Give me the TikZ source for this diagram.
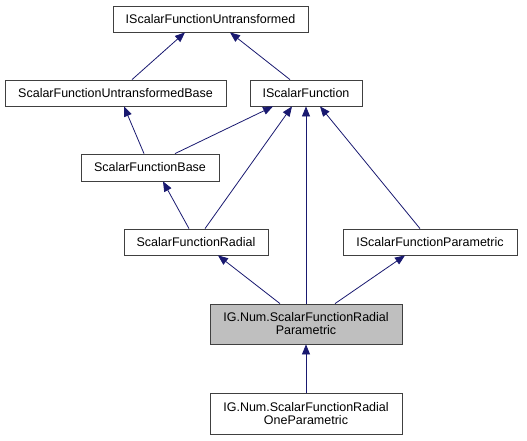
\documentclass[tikz,border=0pt]{standalone}
\usepackage{fontspec}
\setmainfont{Liberation Sans}
\usetikzlibrary{arrows.meta}

\definecolor{edgeblue}{RGB}{25,25,112}

\tikzset{
	classbox/.style = {draw = black!75, line width = 0.8pt, fill = white, inner sep = 0pt,
		minimum height = 26pt, align = center,
		font = \fontsize{12.5}{13}\selectfont},
	inherit/.style = {draw = edgeblue, line width = 0.8pt,
		-{Triangle[length = 10pt, width = 8pt]}}
}

\begin{document}
\begin{tikzpicture}[x = 1pt, y = -1pt]

	\useasboundingbox (0, 0) rectangle (527, 440);

	% Interfaces and base classes

	\node [classbox, minimum width = 195pt] (isfu) at (210.5, 19) {IScalarFunctionUntransformed};
	\node [classbox, minimum width = 221pt] (sfub) at (115.5, 93) {ScalarFunctionUntransformedBase};
	\node [classbox, minimum width = 112pt] (isf) at (306, 93) {IScalarFunction};
	\node [classbox, minimum width = 138pt, minimum height = 27pt] (sfb) at (150, 167.5) {ScalarFunctionBase};
	\node [classbox, minimum width = 144pt] (sfr) at (196, 242) {ScalarFunctionRadial};
	\node [classbox, minimum width = 174pt] (isfp) at (430, 242) {IScalarFunctionParametric};

	% The class itself and its derived class

	\node [classbox, fill = black!25, minimum width = 192pt, minimum height = 40pt] (sfrp) at (306, 324)
		{IG.Num.ScalarFunctionRadial\\Parametric};
	\node [classbox, minimum width = 192pt, minimum height = 41pt] (sfrop) at (306, 413.5)
		{IG.Num.ScalarFunctionRadial\\OneParametric};

	% Inheritance arrows (child top -> parent bottom)

	\foreach \c/\dc/\p/\dp in {sfub/16.5/isfu/-25.5, isf/-16/isfu/19.5,
			sfb/-6/sfub/8.5, sfb/25/isf/-33, sfr/9/isf/-14, sfr/-7/sfb/13,
			sfrp/0/isf/0, isfp/-10/isf/14, sfrp/-26/sfr/22, sfrp/29/isfp/-25,
			sfrop/0/sfrp/0}
		\draw [inherit] ([xshift = \dc pt] \c.north) -- ([xshift = \dp pt] \p.south);

\end{tikzpicture}
\end{document}
